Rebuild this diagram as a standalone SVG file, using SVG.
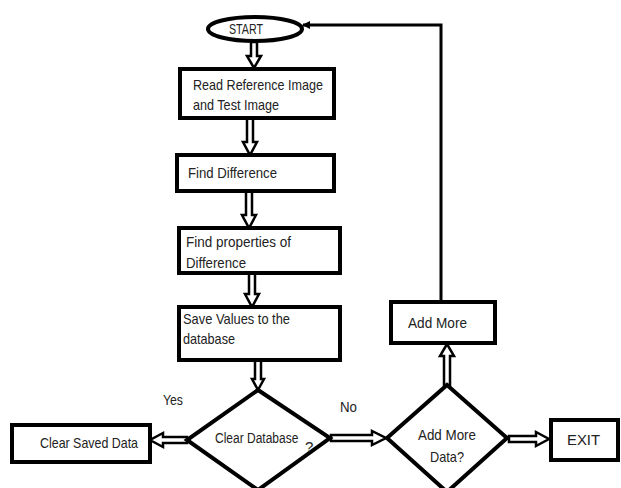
<svg xmlns="http://www.w3.org/2000/svg" width="621" height="488" viewBox="0 0 621 488">
<style>
.box{fill:#fff;stroke:#000;stroke-width:4}
.t{font-family:"Liberation Sans",Arial,sans-serif;font-size:15px;fill:#222}
.ba{fill:#fff;stroke:#000;stroke-width:2.5;stroke-linejoin:miter}
.ln{fill:none;stroke:#000;stroke-width:3}
</style>
<defs>
<marker id="ah" markerWidth="8" markerHeight="8" refX="7" refY="4" orient="auto" markerUnits="userSpaceOnUse">
<path d="M0,0 L8,4 L0,8 z" fill="#000"/>
</marker>
</defs>
<rect width="621" height="488" fill="#fff"/>
<g id="connectors">
<path class="ln" d="M441 302 V25 H303" marker-end="url(#ah)"/>
<polygon class="ba" points="251,42 257,42 257,56 261,56 254,68 247,56 251,56"/>
<polygon class="ba" points="247,118 253,118 253,142 257,142 250,155 243,142 247,142"/>
<polygon class="ba" points="246,191 252,191 252,215 256,215 249,228 242,215 246,215"/>
<polygon class="ba" points="249,273 255,273 255,294 259,294 252,307 245,294 249,294"/>
<polygon class="ba" points="255,360 261,360 261,379 264,379 258,390 252,379 255,379"/>
<polygon class="ba" points="187,437 187,443 163,443 163,447 150,440 163,433 163,437"/>
<polygon class="ba" points="331,435 331,441 372,441 372,445 386,438 372,431 372,435"/>
<polygon class="ba" points="444,385 450,385 450,356 454,356 447,344 440,356 444,356"/>
<polygon class="ba" points="509,436 509,442 536,442 536,446 549,439 536,432 536,436"/>
</g>
<g id="start">
<ellipse cx="255" cy="29" rx="47" ry="12" class="box" stroke-width="3.5"/>
<text class="t" x="246" y="34" text-anchor="middle" textLength="34" lengthAdjust="spacingAndGlyphs">START</text>
</g>
<g id="read">
<rect class="box" x="180" y="69" width="154" height="49"/>
<text class="t" x="193" y="90" textLength="130" lengthAdjust="spacingAndGlyphs">Read Reference Image</text>
<text class="t" x="193" y="110" textLength="86" lengthAdjust="spacingAndGlyphs">and Test Image</text>
</g>
<g id="finddiff">
<rect class="box" x="177" y="155" width="157" height="36"/>
<text class="t" x="188" y="178" textLength="89" lengthAdjust="spacingAndGlyphs">Find Difference</text>
</g>
<g id="findprops">
<rect class="box" x="179" y="228" width="161" height="45"/>
<text class="t" x="186" y="247" textLength="105" lengthAdjust="spacingAndGlyphs">Find properties of</text>
<text class="t" x="186" y="268" textLength="60" lengthAdjust="spacingAndGlyphs">Difference</text>
</g>
<g id="save">
<rect class="box" x="179" y="307" width="161" height="53"/>
<text class="t" x="183" y="324" textLength="107" lengthAdjust="spacingAndGlyphs">Save Values to the</text>
<text class="t" x="183" y="344" textLength="52" lengthAdjust="spacingAndGlyphs">database</text>
</g>
<g id="cleardb">
<polygon class="box" points="258,390 330,438 258,490 187,440"/>
<text class="t" transform="translate(215,443) scale(0.8,1)">Clear Database</text>
<text class="t" x="305" y="452" font-size="12">?</text>
</g>
<g id="clearsaved">
<rect class="box" x="12" y="425" width="138" height="37"/>
<text class="t" x="40" y="448" textLength="98" lengthAdjust="spacingAndGlyphs">Clear Saved Data</text>
</g>
<g id="addmoredata">
<polygon class="box" points="447,385 507,438 447,492 387,438"/>
<text class="t" x="447" y="440" text-anchor="middle" textLength="58" lengthAdjust="spacingAndGlyphs">Add More</text>
<text class="t" x="447" y="462" text-anchor="middle" textLength="34" lengthAdjust="spacingAndGlyphs">Data?</text>
</g>
<g id="addmore">
<rect class="box" x="391" y="302" width="104" height="41"/>
<text class="t" x="408" y="328" textLength="59" lengthAdjust="spacingAndGlyphs">Add More</text>
</g>
<g id="exit">
<rect class="box" x="551" y="420" width="67" height="40"/>
<text class="t" x="567" y="445" textLength="33" lengthAdjust="spacingAndGlyphs">EXIT</text>
</g>
<g id="labels">
<text class="t" x="163" y="405" textLength="20" lengthAdjust="spacingAndGlyphs">Yes</text>
<text class="t" x="340" y="412" textLength="17" lengthAdjust="spacingAndGlyphs">No</text>
</g>
</svg>
